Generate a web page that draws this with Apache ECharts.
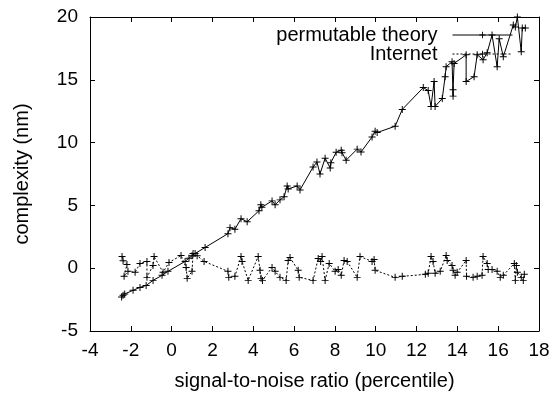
<!DOCTYPE html>
<html>
<head>
<meta charset="utf-8">
<script src="https://cdn.jsdelivr.net/npm/echarts@6/dist/echarts.min.js"></script>
<style>
  html, body { margin: 0; padding: 0; background: #fff; }
  #chart { width: 555px; height: 396px; }
</style>
</head>
<body>
<div id="chart"></div>
<script>
  // permutable theory (solid)
  const theoryX = [-2.45, -2.38, -2.3, -1.89, -1.55, -1.25, -0.91, -0.47, -0.18, 0.66, 0.85, 1.0, 1.15, 1.64,
    2.76, 2.86, 3.1, 3.4, 3.7, 4.28, 4.37, 4.42, 4.92, 5.07, 5.31, 5.51, 5.66, 5.71, 6.15, 6.29,
    6.93, 7.12, 7.27, 7.52, 7.77, 7.8, 8.06, 8.31, 8.35, 8.55, 9.09, 9.28, 9.82, 9.97, 10.07,
    10.95, 11.3, 12.33, 12.57, 12.71, 12.86, 12.91, 13.26, 13.4, 13.45, 13.74, 13.79, 13.79, 13.84,
    14.43, 14.43, 14.82, 14.97, 15.26, 15.46, 15.7, 15.95, 16.05, 16.25, 16.74, 16.84, 16.94, 17.13, 17.18, 17.33];
  const theoryY = [-2.3, -2.15, -2.05, -1.76, -1.53, -1.37, -0.97, -0.57, -0.25, 0.54, 0.8, 1.0, 1.17, 1.65,
    2.75, 3.23, 3.1, 3.94, 3.7, 4.57, 5.05, 4.85, 5.36, 5.05, 5.44, 5.68, 6.55, 6.31, 6.55, 6.23,
    8.05, 8.45, 7.5, 8.76, 7.97, 8.4, 9.23, 9.4, 9.2, 8.6, 9.48, 9.25, 10.45, 10.9, 10.8,
    11.3, 12.64, 14.38, 14.14, 12.88, 14.86, 12.88, 13.51, 15.25, 16.04, 16.44, 13.7, 14.2, 16.3,
    16.99, 14.86, 15.25, 16.99, 16.6, 17.15, 18.57, 16.04, 18.27, 16.84, 19.36, 19.2, 20.0, 17.23, 19.13, 19.13];

  // Internet (dotted)
  const internetX = [-2.43, -2.38, -2.19, -2.33, -2.14, -1.79, -1.55, -1.21, -1.21, -0.91, -0.86, -0.42, -0.13,
    0.46, 0.71, 0.76, 1.0, 1.05, 1.25, 1.59, 2.76, 2.8, 3.1, 3.4, 3.45, 3.75, 4.24, 4.33, 4.38, 4.45,
    4.92, 5.07, 5.31, 5.61, 5.71, 5.8, 6.2, 6.25, 6.93, 7.18, 7.3, 7.37, 7.52, 7.72, 8.01, 8.16, 8.31,
    8.45, 8.6, 9.09, 9.23, 9.82, 9.92, 9.97, 10.95, 11.3, 12.43, 12.57, 12.71, 12.81, 12.91, 13.16,
    13.45, 13.5, 13.74, 13.79, 13.89, 13.99, 14.43, 14.45, 14.77, 14.97, 15.21, 15.26, 15.46, 15.51,
    15.7, 15.95, 16.1, 16.25, 16.79, 16.84, 16.89, 16.94, 17.13, 17.23, 17.28];
  const internetY = [0.93, 0.6, 0.3, -0.65, -0.25, -0.33, 0.38, 0.54, -0.73, 0.22, 0.93, -0.33, 0.46,
    1.01, 0.06, -0.81, -0.25, 1.17, 1.0, 0.54, -0.25, -0.73, -0.65, 0.93, 0.54, -0.97, 0.93, -0.17, -0.81, -0.97,
    0.06, -0.25, -0.73, -0.97, 0.62, 0.85, -0.17, -0.73, -0.97, 0.78, 0.54, 0.93, -0.97, 0.38, -0.25, -0.1, -0.57,
    0.62, 0.54, -0.73, 0.93, 0.54, 0.7, -0.17, -0.73, -0.65, -0.49, -0.41, 0.93, 0.54, -0.41, -0.25,
    1.01, 0.62, 0.22, -0.17, -0.57, -0.33, 0.62, -0.65, -0.73, -0.65, -0.57, 0.93, 0.38, -0.1,
    -0.1, -0.25, -0.73, -0.57, 0.38, -0.97, 0.22, -0.33, -0.73, -0.97, -0.49];

  const xTicks = [-4, -2, 0, 2, 4, 6, 8, 10, 12, 14, 16, 18];
  const yTicks = [-5, 0, 5, 10, 15, 20];

  const plus = 'path://M4.3,0H5.7V4.3H10V5.7H5.7V10H4.3V5.7H0V4.3H4.3Z';
  const font = 'Liberation Sans, Arial, Helvetica, sans-serif';

  function zip(xs, ys) {
    return xs.map((x, i) => [x, ys[i]]);
  }

  const axisLine = { onZero: false, lineStyle: { color: '#000', width: 1 } };
  const tickStyle = { inside: true, length: 5, lineStyle: { color: '#000', width: 1 } };

  const option = {
    animation: false,
    backgroundColor: '#fff',
    grid: { left: 90, right: 16, top: 17, bottom: 63 },
    legend: {
      orient: 'vertical',
      align: 'right',
      right: 37,
      top: 20,
      itemWidth: 60,
      itemHeight: 8,
      itemGap: -1,
      textStyle: { color: '#000', fontSize: 20, fontFamily: font, padding: [0, 10, 0, 0] },
      data: [
        { name: 'permutable theory', lineStyle: { width: 1, color: '#000', type: 'solid' } },
        { name: 'Internet', lineStyle: { width: 1, color: '#000', type: [2, 2] } }
      ]
    },
    xAxis: [
      {
        type: 'value',
        min: xTicks[0],
        max: xTicks[xTicks.length - 1],
        interval: 2,
        name: 'signal-to-noise ratio (percentile)',
        nameLocation: 'middle',
        nameGap: 40,
        nameTextStyle: { color: '#000', fontSize: 20, fontFamily: font },
        axisLine: axisLine,
        axisTick: tickStyle,
        axisLabel: { color: '#000', fontSize: 19, fontFamily: font, margin: 10 },
        splitLine: { show: false }
      },
      {
        type: 'value',
        position: 'top',
        min: xTicks[0],
        max: xTicks[xTicks.length - 1],
        interval: 2,
        axisLine: axisLine,
        axisTick: tickStyle,
        axisLabel: { show: false },
        splitLine: { show: false }
      }
    ],
    yAxis: [
      {
        type: 'value',
        min: yTicks[0],
        max: yTicks[yTicks.length - 1],
        interval: 5,
        name: 'complexity (nm)',
        nameLocation: 'middle',
        nameGap: 58,
        nameTextStyle: { color: '#000', fontSize: 20, fontFamily: font },
        axisLine: axisLine,
        axisTick: tickStyle,
        axisLabel: { color: '#000', fontSize: 19, fontFamily: font, margin: 12 },
        splitLine: { show: false }
      },
      {
        type: 'value',
        position: 'right',
        min: yTicks[0],
        max: yTicks[yTicks.length - 1],
        interval: 5,
        axisLine: axisLine,
        axisTick: tickStyle,
        axisLabel: { show: false },
        splitLine: { show: false }
      }
    ],
    series: [
      {
        name: 'permutable theory',
        type: 'line',
        data: zip(theoryX, theoryY),
        symbol: plus,
        symbolSize: 7,
        showAllSymbol: true,
        color: '#000',
        itemStyle: { color: '#000' },
        lineStyle: { color: '#000', width: 1, type: 'solid' }
      },
      {
        name: 'Internet',
        type: 'line',
        data: zip(internetX, internetY),
        symbol: plus,
        symbolSize: 7,
        showAllSymbol: true,
        color: '#000',
        itemStyle: { color: '#000' },
        lineStyle: { color: '#000', width: 1, type: [2, 2] }
      }
    ]
  };

  const chart = echarts.init(document.getElementById('chart'));
  chart.setOption(option);
</script>
</body>
</html>
